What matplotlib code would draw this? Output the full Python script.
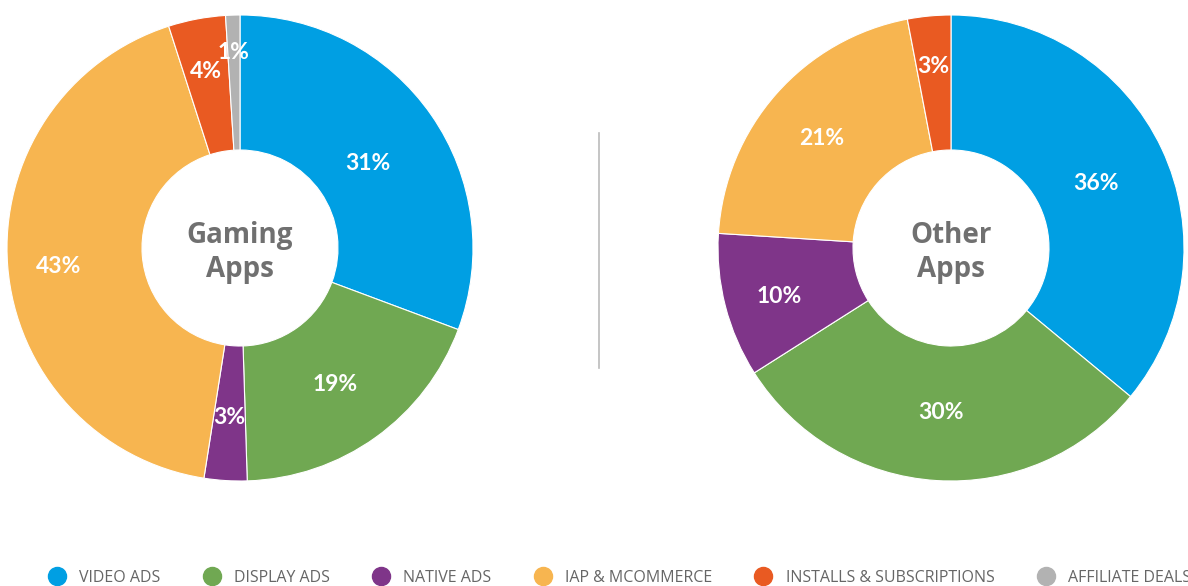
import numpy as np
import matplotlib.pyplot as plt
from matplotlib.lines import Line2D

# Data
categories = ["VIDEO ADS", "DISPLAY ADS", "NATIVE ADS", "IAP & MCOMMERCE",
              "INSTALLS & SUBSCRIPTIONS", "AFFILIATE DEALS"]
colors = ["#009FE3", "#70A852", "#7F3589", "#F7B550", "#E95A22", "#B2B2B2"]

gaming_values = [31, 19, 3, 43, 4, 1]
other_values = [36, 30, 10, 21, 3]

# label distance from centre, per slice (outer radius = 1)
gaming_label_r = [0.67, 0.70, 0.71, 0.78, 0.79, 0.86]
other_label_r = [0.69, 0.69, 0.76, 0.74, 0.80]

plt.rcParams['font.family'] = ['Open Sans', 'DejaVu Sans']

W, H = 1188, 586
fig = plt.figure(figsize=(W / 100, H / 100), dpi=100)

R_PX = 233
HOLE = 98 / 233


def donut(cx, cy, values, label_r, title):
    ax = fig.add_axes([(cx - R_PX) / W, (H - cy - R_PX) / H, 2 * R_PX / W, 2 * R_PX / H])
    wedges, _ = ax.pie(values, colors=colors[:len(values)], startangle=90,
                       counterclock=False, radius=1,
                       wedgeprops=dict(width=1 - HOLE, edgecolor="white", linewidth=0.8))
    for w, v, r in zip(wedges, values, label_r):
        ang = np.deg2rad((w.theta1 + w.theta2) / 2)
        ax.text(r * np.cos(ang), r * np.sin(ang) - 0.01, f"{v}%", color="white",
                fontsize=16.5, fontweight="bold", ha="center", va="center_baseline",
                family=["Lato", "DejaVu Sans"])
    ax.text(0, -0.02, title, ha="center", va="center", fontsize=20,
            fontweight="bold", color="#707070", linespacing=1.25)
    ax.set_xlim(-1, 1)
    ax.set_ylim(-1, 1)
    ax.set_aspect("equal")
    ax.axis("off")
    return ax


donut(240, 248, gaming_values, gaming_label_r, "Gaming\nApps")
donut(951, 248, other_values, other_label_r, "Other\nApps")

# divider
fig.add_artist(Line2D([599 / W, 599 / W], [(H - 368) / H, (H - 133) / H],
                      color="#BBBBBB", linewidth=1.2))

handles = [Line2D([0], [0], marker="o", linestyle="", markersize=13,
                  markerfacecolor=c, markeredgecolor=c) for c in colors]
leg = fig.legend(handles, categories, loc="center left", ncol=6,
                 bbox_to_anchor=(49 / W, (H - 578) / H), frameon=False,
                 fontsize=11.5, handletextpad=0.9, columnspacing=2.7,
                 handlelength=1.0, borderpad=0, borderaxespad=0)
for t in leg.get_texts():
    t.set_color("#666666")

fig.savefig("out.png", dpi=100)
